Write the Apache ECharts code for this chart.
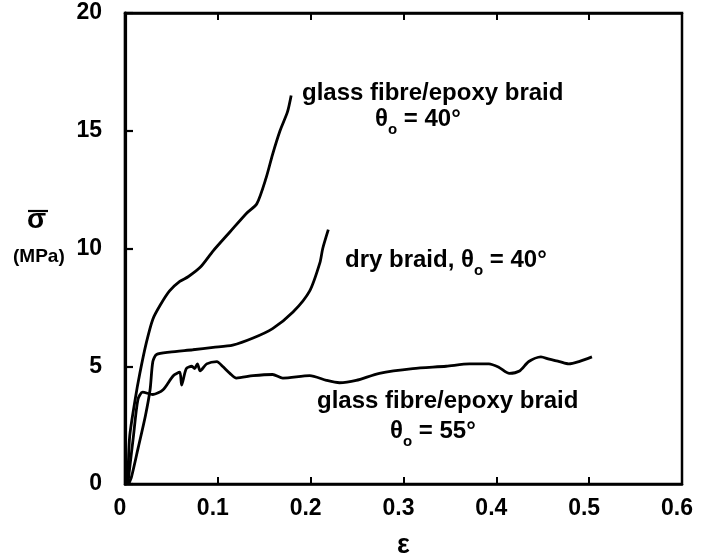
<!DOCTYPE html>
<html>
<head>
<meta charset="utf-8">
<style>
  html, body { margin: 0; padding: 0; background: #fff; }
  #chart { width: 703px; height: 558px; }
</style>
<script src="https://cdn.jsdelivr.net/npm/echarts@6/dist/echarts.min.js"></script>
</head>
<body>
<div id="chart"></div>
<script>
// Strain (ε) and mean stress (MPa) for the three braid tests
const glass40Strain = [0.003, 0.005, 0.011, 0.016, 0.023, 0.030, 0.038, 0.048, 0.059, 0.068, 0.081, 0.095, 0.113, 0.131, 0.142, 0.152, 0.159, 0.167, 0.175, 0.179];
const glass40Stress = [0.0, 2.0, 3.6, 4.7, 6.0, 7.0, 7.6, 8.2, 8.6, 8.8, 9.2, 9.9, 10.7, 11.5, 11.9, 13.0, 14.0, 15.0, 15.8, 16.5];

const dry40Strain = [0.004, 0.007, 0.014, 0.022, 0.027, 0.030, 0.034, 0.048, 0.073, 0.095, 0.116, 0.138, 0.159, 0.181, 0.199, 0.210, 0.213, 0.219];
const dry40Stress = [0.0, 0.3, 1.5, 2.9, 4.0, 5.2, 5.5, 5.6, 5.7, 5.8, 5.9, 6.2, 6.6, 7.3, 8.2, 9.4, 10.0, 10.8];

const glass55Strain = [0.003, 0.009, 0.014, 0.019, 0.030, 0.041, 0.052, 0.059, 0.061, 0.066, 0.072, 0.075, 0.078, 0.081, 0.088, 0.099, 0.105, 0.113, 0.120, 0.138, 0.159, 0.170, 0.199, 0.217, 0.231, 0.249, 0.274, 0.310, 0.346, 0.371, 0.392, 0.403, 0.414, 0.425, 0.435, 0.448, 0.457, 0.468, 0.478, 0.489, 0.503];
const glass55Stress = [0.0, 2.0, 3.6, 3.9, 3.8, 4.0, 4.6, 4.75, 4.2, 4.9, 5.0, 4.9, 5.1, 4.8, 5.1, 5.2, 5.0, 4.7, 4.5, 4.6, 4.65, 4.5, 4.6, 4.4, 4.3, 4.4, 4.7, 4.9, 5.0, 5.1, 5.1, 4.95, 4.7, 4.8, 5.2, 5.4, 5.3, 5.2, 5.1, 5.2, 5.4];

const xTickLabels = ['0', '0.1', '0.2', '0.3', '0.4', '0.5', '0.6'];
const yTickLabels = ['0', '5', '10', '15', '20'];

const pairs = (xs, ys) => xs.map((x, i) => [x, ys[i]]);

const FONT = '"Liberation Sans", Arial, Helvetica, sans-serif';

const lineSeries = (data) => ({
  type: 'line',
  data: data,
  showSymbol: false,
  smooth: 0.25,
  lineStyle: { color: '#000', width: 2.8 },
  z: 3
});

// theta with a lowered subscript "o"
const textRich = {
  a: { fontFamily: FONT, fontWeight: 'bold', fontSize: 24, color: '#000', lineHeight: 36, verticalAlign: 'middle' },
  s: { fontFamily: FONT, fontWeight: 'bold', fontSize: 15, color: '#000', lineHeight: 15, verticalAlign: 'bottom' }
};

const chart = echarts.init(document.getElementById('chart'), null, { renderer: 'canvas' });

chart.setOption({
  backgroundColor: '#fff',
  animation: false,
  grid: {
    left: 125, right: 21, top: 13, bottom: 74,
    outerBoundsMode: 'none', containLabel: false,
    show: true, borderColor: '#000', borderWidth: 2.5, backgroundColor: 'transparent'
  },
  xAxis: [
    {
      type: 'value', min: 0, max: 0.6, interval: 0.1, position: 'bottom',
      axisLine: { show: true, lineStyle: { color: '#000', width: 2.5 } },
      axisTick: { show: true, inside: true, length: 7, lineStyle: { color: '#000', width: 2 } },
      axisLabel: {
        show: true, margin: 13, padding: [0, 10, 0, 0],
        fontFamily: FONT, fontWeight: 'bold', fontSize: 23, color: '#000',
        formatter: (v) => xTickLabels[Math.round(v * 10)]
      },
      splitLine: { show: false },
      name: 'ε', nameLocation: 'middle', nameGap: 48,
      nameTextStyle: { fontFamily: FONT, fontWeight: 'bold', fontSize: 27, color: '#000' }
    },
    {
      type: 'value', min: 0, max: 0.6, interval: 0.1, position: 'top',
      axisLine: { show: true, lineStyle: { color: '#000', width: 2.5 } },
      axisTick: { show: true, inside: true, length: 7, lineStyle: { color: '#000', width: 2 } },
      axisLabel: { show: false },
      splitLine: { show: false }
    }
  ],
  yAxis: [
    {
      type: 'value', min: 0, max: 20, interval: 5,
      axisLine: { show: true, lineStyle: { color: '#000', width: 3.2 } },
      axisTick: { show: true, inside: true, length: 8, lineStyle: { color: '#000', width: 2.2 } },
      axisLabel: {
        show: true, margin: 23,
        fontFamily: FONT, fontWeight: 'bold', fontSize: 23, color: '#000',
        formatter: (v) => yTickLabels[Math.round(v / 5)]
      },
      splitLine: { show: false }
    }
  ],
  series: [
    lineSeries(pairs(glass40Strain, glass40Stress)),
    lineSeries(pairs(dry40Strain, dry40Stress)),
    lineSeries(pairs(glass55Strain, glass55Stress))
  ],
  graphic: [
    // y-axis title: mean stress with overbar, unit below
    {
      type: 'text', left: 27, top: 206,
      style: { text: 'σ', fontFamily: FONT, fontWeight: 'bold', fontSize: 28, fill: '#000' }
    },
    {
      type: 'line', shape: { x1: 28, y1: 211, x2: 48, y2: 211 },
      style: { stroke: '#000', lineWidth: 2.2 }
    },
    {
      type: 'text', left: 13, top: 247,
      style: { text: '(MPa)', fontFamily: FONT, fontWeight: 'bold', fontSize: 19, fill: '#000' }
    },
    // curve annotations
    {
      type: 'text', left: 302, top: 81,
      style: { text: 'glass fibre/epoxy braid', fontFamily: FONT, fontWeight: 'bold', fontSize: 24, fill: '#000' }
    },
    {
      type: 'text', left: 375, top: 107,
      style: { text: '{a|θ}{s|o}{a| = 40°}', rich: textRich }
    },
    {
      type: 'text', left: 345, top: 248,
      style: { text: '{a|dry braid, θ}{s|o}{a| = 40°}', rich: textRich }
    },
    {
      type: 'text', left: 317, top: 389,
      style: { text: 'glass fibre/epoxy braid', fontFamily: FONT, fontWeight: 'bold', fontSize: 24, fill: '#000' }
    },
    {
      type: 'text', left: 390, top: 419,
      style: { text: '{a|θ}{s|o}{a| = 55°}', rich: textRich }
    }
  ]
});
</script>
</body>
</html>
